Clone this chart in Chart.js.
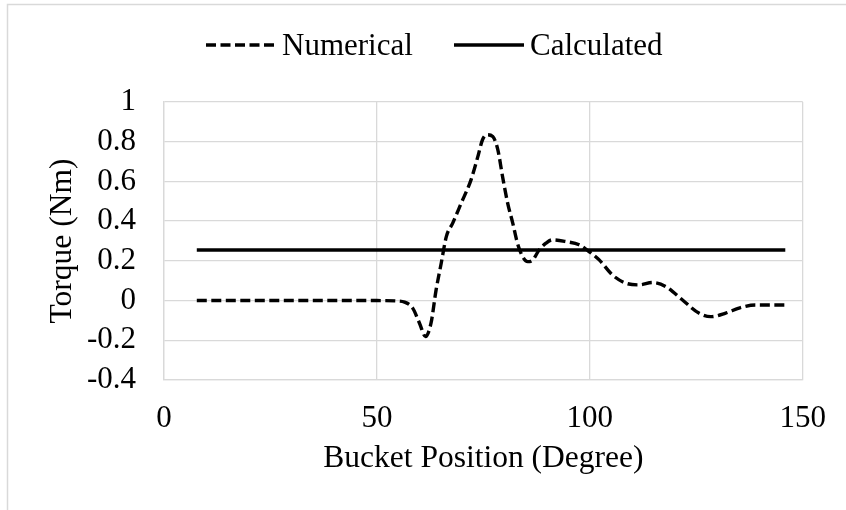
<!DOCTYPE html>
<html lang="en">
<head>
    <meta charset="UTF-8">
    <script src="https://cdn.jsdelivr.net/npm/chart.js"></script>
    <title>Bucket torque</title>
    <style>
        body { margin: 0; background: #fff; }
    </style>
</head>
<body>
    <canvas id="myChart" width="846" height="510"></canvas>
<script>
    // bucket position (deg) and torque (Nm) from the numerical model
    const numX = [7.7, 20, 30, 40, 50, 54.5, 56.5, 58.4, 60, 61.4, 62.7, 63.9, 65.1, 66.3, 67.8, 69.8,
        72.1, 73.7, 74.8, 75.8, 77.2, 78.4, 79.5, 80.7, 81.9, 83, 84.2, 85.4, 86.6, 88.1, 89.7, 91.2,
        94.4, 97.5, 99.8, 102.2, 105.3, 108.4, 111.6, 114.7, 117.8, 121.7, 125.6, 128.4, 131.9, 135,
        138.9, 145.9];
    const numY = [0, 0, 0, 0, 0, -0.002, -0.008, -0.038, -0.114, -0.181, -0.114, 0.054, 0.188, 0.322, 0.39, 0.491,
        0.608, 0.725, 0.81, 0.835, 0.826, 0.759, 0.625, 0.491, 0.39, 0.289, 0.222, 0.196, 0.205, 0.255, 0.289, 0.306,
        0.297, 0.281, 0.247, 0.205, 0.129, 0.088, 0.079, 0.091, 0.071, 0.004, -0.063, -0.081, -0.063, -0.038,
        -0.022, -0.022];
    // calculated torque is constant over the stroke
    const calcX = [7.7, 145.9];
    const calcY = [0.255, 0.255];

    const seriesNames = ['Numerical', 'Calculated'];
    const xTicks = [0, 50, 100, 150];
    const yTicks = [-0.4, -0.2, 0, 0.2, 0.4, 0.6, 0.8, 1];

    const FONT = "'Liberation Serif', 'Times New Roman', serif";
    const GRID = '#d9d9d9';

    function toPoints(xs, ys) {
        return xs.map((x, i) => ({ x: x, y: ys[i] }));
    }

    // white page with the light frame on the left and top
    const frame = {
        id: 'frame',
        beforeDraw(chart) {
            const ctx = chart.ctx;
            ctx.save();
            ctx.fillStyle = '#fff';
            ctx.fillRect(0, 0, chart.width, chart.height);
            ctx.strokeStyle = GRID;
            ctx.lineWidth = 1.5;
            ctx.beginPath();
            ctx.moveTo(7.5, chart.height);
            ctx.lineTo(7.5, 4.5);
            ctx.lineTo(chart.width, 4.5);
            ctx.stroke();
            ctx.restore();
        }
    };

    // legend drawn by hand so the line samples sit tight to the text
    const legendStarts = [206, 454];
    const legend = {
        id: 'lineLegend',
        afterDraw(chart) {
            const ctx = chart.ctx;
            ctx.save();
            ctx.font = '31px ' + FONT;
            ctx.fillStyle = '#000';
            ctx.textBaseline = 'alphabetic';
            chart.data.datasets.forEach((ds, i) => {
                const x0 = legendStarts[i];
                ctx.strokeStyle = ds.borderColor;
                ctx.lineWidth = ds.borderWidth;
                ctx.setLineDash(ds.borderDash || []);
                ctx.beginPath();
                ctx.moveTo(x0, 45);
                ctx.lineTo(x0 + 70, 45);
                ctx.stroke();
                ctx.setLineDash([]);
                ctx.fillText(ds.label, x0 + 76, 55);
            });
            ctx.restore();
        }
    };

    const ctx = document.getElementById('myChart');
    new Chart(ctx, {
        type: 'line',
        data: {
            datasets: [{
                label: seriesNames[0],
                data: toPoints(numX, numY),
                borderColor: '#000',
                borderWidth: 3.4,
                borderDash: [10, 4.5],
                cubicInterpolationMode: 'monotone',
                pointRadius: 0,
                fill: false
            }, {
                label: seriesNames[1],
                data: toPoints(calcX, calcY),
                borderColor: '#000',
                borderWidth: 3.4,
                pointRadius: 0,
                fill: false
            }]
        },
        options: {
            responsive: false,
            animation: false,
            devicePixelRatio: 1,
            layout: { padding: { top: 102, right: 42, left: 0, bottom: 0 } },
            plugins: {
                legend: { display: false },
                tooltip: { enabled: false }
            },
            scales: {
                x: {
                    type: 'linear',
                    min: 0,
                    max: 150,
                    afterBuildTicks: (s) => { s.ticks = xTicks.map(v => ({ value: v })); },
                    afterFit: (s) => { s.height = 130; },
                    grid: { color: GRID, lineWidth: 1.3, drawTicks: false },
                    border: { color: GRID, width: 1.3 },
                    ticks: {
                        autoSkip: false,
                        maxRotation: 0,
                        padding: 20,
                        color: '#000',
                        font: { family: FONT, size: 31 },
                        callback: (v) => String(v)
                    },
                    title: {
                        display: true,
                        text: 'Bucket Position (Degree)',
                        color: '#000',
                        font: { family: FONT, size: 31.5 },
                        padding: { top: 0, bottom: 32 }
                    }
                },
                y: {
                    min: -0.4,
                    max: 1,
                    afterBuildTicks: (s) => { s.ticks = yTicks.map(v => ({ value: v })); },
                    afterFit: (s) => { s.width = 164; },
                    grid: { color: GRID, lineWidth: 1.3, drawTicks: false },
                    border: { color: GRID, width: 1.3 },
                    ticks: {
                        autoSkip: false,
                        padding: 28,
                        color: '#000',
                        font: { family: FONT, size: 31 },
                        callback: (v) => String(+v.toFixed(1))
                    },
                    title: {
                        display: true,
                        text: 'Torque (Nm)',
                        color: '#000',
                        font: { family: FONT, size: 31.5 },
                        padding: { top: 44, bottom: 0 }
                    }
                }
            }
        },
        plugins: [frame, legend]
    });
</script>
</body>
</html>
